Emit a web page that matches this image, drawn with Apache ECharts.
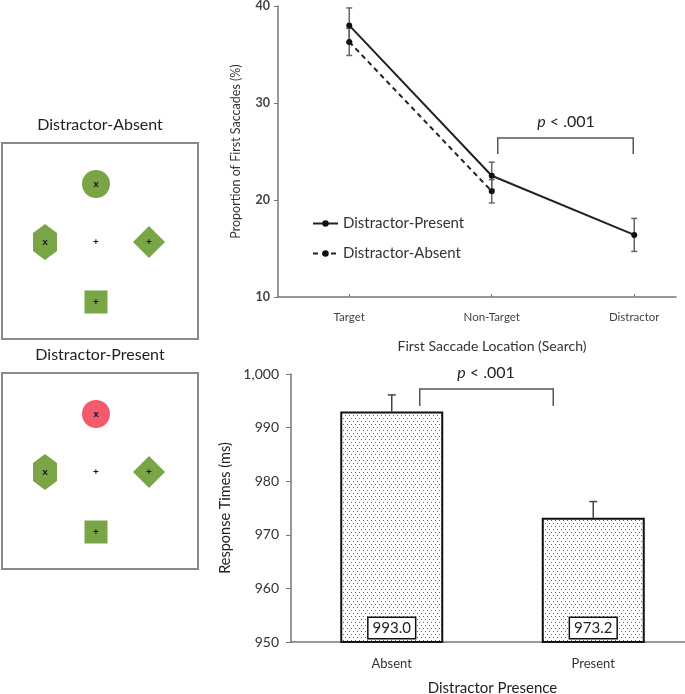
<!DOCTYPE html>
<html>
<head>
<meta charset="utf-8">
<script src="https://cdn.jsdelivr.net/npm/echarts@6/dist/echarts.min.js"></script>
<style>html,body{margin:0;padding:0;background:#fff;}#c{width:685px;height:694px;}</style>
</head>
<body>
<div id="c"></div>
<script>
// ---- Data ----
const locationCategories = ['Target', 'Non-Target', 'Distractor'];
const presentProportion = [38.0, 22.5, 16.4];
const presentProportionErr = [1.8, 1.4, 1.7];
const absentProportion = [36.3, 20.9];
const absentProportionErr = [1.4, 1.2];
const proportionTicks = [10, 20, 30, 40];

const presenceCategories = ['Absent', 'Present'];
const responseTimes = [993.0, 973.2];
const responseTimesErr = [3.1, 3.0];
const rtTicks = [950, 960, 970, 980, 990, 1000];

const seriesNames = ['Distractor-Present', 'Distractor-Absent'];
const panelTitles = ['Distractor-Absent', 'Distractor-Present'];

// ---- Helpers ----
const FONT = 'Lato';
const chart = echarts.init(document.getElementById('c'), null, {renderer: 'canvas'});

function makeDotPattern() {
  const cv = document.createElement('canvas');
  cv.width = 8; cv.height = 6;
  const ctx = cv.getContext('2d');
  ctx.fillStyle = '#ffffff';
  ctx.fillRect(0, 0, 8, 6);
  ctx.fillStyle = '#666666';
  [[1,1],[5,1],[3,4],[7,4]].forEach(p => ctx.fillRect(p[0], p[1], 1, 1));
  return cv;
}

const presentLine = presentProportion.map((v, i) => [i + 1, v]);
const absentLine = absentProportion.map((v, i) => [i + 1, v]);
const topErrData = [];
presentProportion.forEach((v, i) => topErrData.push([i + 1, v - presentProportionErr[i], v + presentProportionErr[i]]));
absentProportion.forEach((v, i) => topErrData.push([i + 1, v - absentProportionErr[i], v + absentProportionErr[i]]));
const rtErrData = responseTimes.map((v, i) => [i, v, v + responseTimesErr[i]]);

function errTop(params, api) {
  const x = api.value(0);
  const lo = api.coord([x, api.value(1)]);
  const hi = api.coord([x, api.value(2)]);
  const w = 3;
  const st = {stroke: '#666', lineWidth: 1.5};
  return {type: 'group', children: [
    {type: 'line', shape: {x1: lo[0], y1: lo[1], x2: hi[0], y2: hi[1]}, style: st},
    {type: 'line', shape: {x1: hi[0]-w, y1: hi[1], x2: hi[0]+w, y2: hi[1]}, style: st},
    {type: 'line', shape: {x1: lo[0]-w, y1: lo[1], x2: lo[0]+w, y2: lo[1]}, style: st}
  ]};
}
function errBar(params, api) {
  const x = api.value(0);
  const lo = api.coord([x, api.value(1)]);
  const hi = api.coord([x, api.value(2)]);
  const w = 4;
  const st = {stroke: '#444', lineWidth: 1.5};
  return {type: 'group', children: [
    {type: 'line', shape: {x1: lo[0], y1: lo[1], x2: hi[0], y2: hi[1]}, style: st},
    {type: 'line', shape: {x1: hi[0]-w, y1: hi[1], x2: hi[0]+w, y2: hi[1]}, style: st}
  ]};
}

// ---- Stimulus panels (illustrations) ----
const GREEN = '#79a547';
const RED = '#f45a6d';
function panel(oy, title, topColor) {
  const els = [];
  els.push({type: 'text', x: 100, y: 125 + oy, style: {text: title, font: '16px ' + FONT, fill: '#222', textAlign: 'center', textVerticalAlign: 'middle'}});
  els.push({type: 'rect', shape: {x: 2, y: 143 + oy, width: 196, height: 196}, style: {fill: 'none', stroke: '#8a8a8a', lineWidth: 2}});
  els.push({type: 'circle', shape: {cx: 96, cy: 184 + oy, r: 14}, style: {fill: topColor}});
  els.push({type: 'polygon', shape: {points: [[45,224+oy],[57,233+oy],[57,251+oy],[45,260+oy],[33,251+oy],[33,233+oy]]}, style: {fill: GREEN}});
  els.push({type: 'polygon', shape: {points: [[149,226+oy],[165,242+oy],[149,258+oy],[133,242+oy]]}, style: {fill: GREEN}});
  els.push({type: 'rect', shape: {x: 84.5, y: 290.5 + oy, width: 23, height: 23}, style: {fill: GREEN}});
  const marks = [['x',96,184],['x',45,242],['+',96,242],['+',149,242],['+',96,302]];
  marks.forEach(m => els.push({type: 'text', x: m[1], y: m[2] + oy, style: {text: m[0], font: 'bold 10px ' + FONT, fill: '#111', textAlign: 'center', textVerticalAlign: 'middle'}}));
  return els;
}

const pattern = makeDotPattern();

const option = {
  animation: false,
  backgroundColor: '#fff',
  textStyle: {fontFamily: FONT},
  grid: [
    {left: 278, top: 6, right: 9, bottom: 397, containLabel: false, outerBoundsMode: 'none'},
    {left: 291, top: 374, right: -9, bottom: 52, containLabel: false, outerBoundsMode: 'none'}
  ],
  legend: {
    data: seriesNames,
    orient: 'vertical', left: 307, top: 211,
    itemWidth: 25, itemHeight: 8, itemGap: 15,
    textStyle: {fontFamily: FONT, fontSize: 15, color: '#333'}
  },
  xAxis: [
    {
      gridIndex: 0, type: 'value', min: 0.5, max: 3.293,
      name: 'First Saccade Location (Search)', nameLocation: 'middle', nameGap: 42,
      nameTextStyle: {fontFamily: FONT, fontSize: 14, color: '#333', padding: [0, 0, 0, 30]},
      axisLine: {lineStyle: {color: '#777', width: 1.5}},
      axisTick: {show: true, inside: true, length: 3, customValues: [1, 2, 3], lineStyle: {color: '#777'}},
      axisLabel: {customValues: [1, 2, 3], formatter: v => locationCategories[Math.round(v) - 1] || '', margin: 14, fontFamily: FONT, fontSize: 11.5, color: '#444'},
      splitLine: {show: false}
    },
    {
      gridIndex: 1, type: 'category', data: presenceCategories,
      name: 'Distractor Presence', nameLocation: 'middle', nameGap: 39,
      nameTextStyle: {fontFamily: FONT, fontSize: 15, color: '#222'},
      axisLine: {lineStyle: {color: '#777', width: 1.5}},
      axisTick: {show: false},
      axisLabel: {margin: 15, fontFamily: FONT, fontSize: 13, color: '#333'}
    }
  ],
  yAxis: [
    {
      gridIndex: 0, type: 'value', min: proportionTicks[0], max: proportionTicks[proportionTicks.length - 1], interval: 10,
      name: 'Proportion of First Saccades (%)', nameLocation: 'middle', nameGap: 36,
      nameTextStyle: {fontFamily: FONT, fontSize: 12.5, color: '#333'},
      axisLine: {show: true, lineStyle: {color: '#777', width: 1.5}},
      axisTick: {show: true, length: 4, lineStyle: {color: '#777'}},
      axisLabel: {margin: 8, fontFamily: FONT, fontSize: 12.5, fontWeight: 'bold', color: '#444'},
      splitLine: {show: false}
    },
    {
      gridIndex: 1, type: 'value', min: rtTicks[0], max: rtTicks[rtTicks.length - 1], interval: 10,
      name: 'Response Times (ms)', nameLocation: 'middle', nameGap: 54,
      nameTextStyle: {fontFamily: FONT, fontSize: 14.5, color: '#222'},
      axisLine: {show: true, lineStyle: {color: '#777', width: 1.5}},
      axisTick: {show: true, length: 5, lineStyle: {color: '#777'}},
      axisLabel: {margin: 12, fontFamily: FONT, fontSize: 14, color: '#333',
        formatter: v => v.toLocaleString('en-US')},
      splitLine: {show: false}
    }
  ],
  series: [
    {type: 'custom', xAxisIndex: 0, yAxisIndex: 0, renderItem: errTop, data: topErrData, z: 1, silent: true},
    {name: seriesNames[0], type: 'line', xAxisIndex: 0, yAxisIndex: 0, data: presentLine,
      symbol: 'circle', symbolSize: 6, itemStyle: {color: '#111'}, lineStyle: {color: '#222', width: 2}, z: 3},
    {name: seriesNames[1], type: 'line', xAxisIndex: 0, yAxisIndex: 0, data: absentLine,
      symbol: 'circle', symbolSize: 6, itemStyle: {color: '#111'}, lineStyle: {color: '#222', width: 2, type: [5, 4]}, z: 2},
    {type: 'custom', xAxisIndex: 1, yAxisIndex: 1, renderItem: errBar, data: rtErrData, z: 1, silent: true},
    {type: 'bar', xAxisIndex: 1, yAxisIndex: 1, data: responseTimes, barWidth: 103, z: 2,
      itemStyle: {color: {image: pattern, repeat: 'repeat'}, borderColor: '#111', borderWidth: 2},
      label: {show: true, position: 'insideBottom', distance: 5, formatter: p => p.value.toFixed(1),
        fontFamily: FONT, fontSize: 15, color: '#222', backgroundColor: '#fff', borderColor: '#111', borderWidth: 1.5,
        padding: [3, 4, 2, 4]}
    }
  ],
  graphic: [].concat(panel(0, panelTitles[0], GREEN), panel(230, panelTitles[1], RED))
};
chart.setOption(option);

// ---- significance brackets, placed from data coordinates ----
function bracket(xL, xR, yBar, yLeg, textY, cx) {
  return [
    {type: 'polyline', shape: {points: [[xL, yLeg], [xL, yBar], [xR, yBar], [xR, yLeg]]}, style: {fill: 'none', stroke: '#555', lineWidth: 1.5}},
    {type: 'text', x: cx, y: textY, style: {text: '{i|p} < .001', rich: {i: {fontStyle: 'italic', font: 'italic 16px ' + FONT, fill: '#222'}}, font: '16px ' + FONT, fill: '#222', textAlign: 'center', textVerticalAlign: 'middle'}}
  ];
}
const pNT = chart.convertToPixel({gridIndex: 0}, [2, presentProportion[1]]);
const pD = chart.convertToPixel({gridIndex: 0}, [3, presentProportion[2]]);
const topBracket = bracket(pNT[0] + 6, pD[0] - 1, 138, 154, 122, (pNT[0] + pD[0]) / 2 + 3);
const bA = chart.convertToPixel({xAxisIndex: 1, yAxisIndex: 1}, [0, responseTimes[0]]);
const bP = chart.convertToPixel({xAxisIndex: 1, yAxisIndex: 1}, [1, responseTimes[1]]);
const botBracket = bracket(bA[0] + 28, bP[0] - 40, 389, 406, 373, 486);
chart.setOption({graphic: option.graphic.concat(topBracket, botBracket)});
</script>
</body>
</html>
